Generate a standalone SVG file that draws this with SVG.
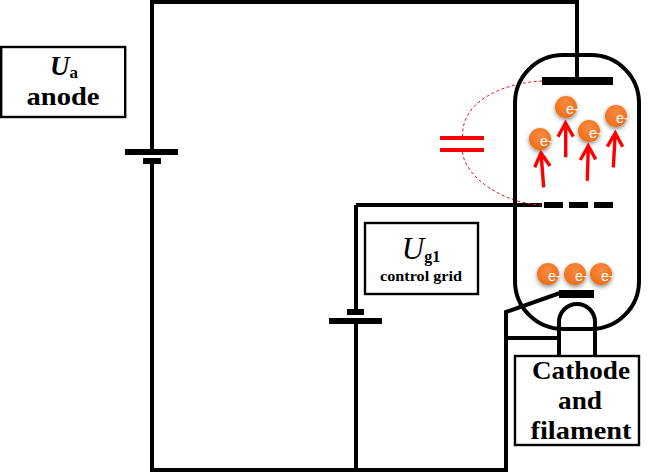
<svg xmlns="http://www.w3.org/2000/svg" width="652" height="474" viewBox="0 0 652 474">
<style>
.w{fill:none;stroke:#000;stroke-width:4}
.b{fill:#000}
.box{fill:#fff;stroke:#000;stroke-width:2.4}
.r{fill:none;stroke:#f00;stroke-width:3.400}
.d{fill:none;stroke:#e8121c;stroke-width:1;stroke-dasharray:3 2.500}
.t{font-family:"Liberation Serif",serif;font-weight:bold;fill:#000;text-anchor:middle}
.e{font-family:"Liberation Sans",sans-serif;font-size:14.500px;fill:#fff}
</style>
<defs>
<radialGradient id="og" cx="50%" cy="35%" r="70%"><stop offset="0" stop-color="#f78a40"/><stop offset="1" stop-color="#ee6c15"/></radialGradient>
<filter id="sh" x="-40%" y="-40%" width="180%" height="180%"><feDropShadow dx="0" dy="2" stdDeviation="2" flood-color="#000" flood-opacity=".45"/></filter>
<g id="el"><circle r="11" fill="url(#og)" filter="url(#sh)"/><text class="e" x="0" y="7">e-</text></g>
</defs>
<rect width="652" height="474" fill="#fff"/>
<g id="connectors">
<path class="w" d="M152 149V2H577V78M152 162V470H506V312L560 293"/>
<path class="w" d="M356 205H542M356 205V311M356 322V470"/>
<path class="w" d="M506 338H559"/>
<path class="d" d="M542 81C515 82 462 95 462.500 136"/>
<path class="d" d="M462.500 152C465 178 505 204 542 205"/>
</g>
<g id="tube"><rect x="515" y="55" width="124" height="274" rx="48" ry="48" fill="none" stroke="#000" stroke-width="4"/></g>
<g id="anode-plate"><rect class="b" x="542" y="77" width="71" height="8"/></g>
<g id="grid"><rect class="b" x="544" y="202" width="19" height="6"/><rect class="b" x="569" y="202" width="19" height="6"/><rect class="b" x="594" y="202" width="19" height="6"/></g>
<g id="battery-a"><rect class="b" x="125" y="149" width="53" height="6"/><rect class="b" x="143" y="158" width="18" height="6"/></g>
<g id="battery-g"><rect class="b" x="347" y="309" width="17" height="6"/><rect class="b" x="329" y="318" width="53" height="6"/></g>
<g id="capacitor"><rect x="440" y="136" width="44" height="4" fill="#f00"/><rect x="440" y="148" width="44" height="4" fill="#f00"/></g>
<g id="cathode"><rect class="b" x="559" y="290" width="35" height="8"/><path class="w" d="M559 356V322A18 18 0 0 1 595 322V356"/></g>
<g id="electrons">
<use href="#el" x="566" y="107"/><use href="#el" x="589" y="131"/><use href="#el" x="616" y="116"/><use href="#el" x="540" y="139"/>
<use href="#el" x="548" y="274"/><use href="#el" x="575" y="274"/><use href="#el" x="601" y="274"/>
</g>
<g id="arrows">
<path class="r" d="M543.700 187.300L541 153M534.700 167.300L541 153L550 166"/>
<path class="r" d="M565.700 157.300V123M558 136.700L565.500 123L573.300 136.700"/>
<path class="r" d="M587.300 180.700L588.300 146M580.300 160L588.300 146L595.700 159.300"/>
<path class="r" d="M613.300 167.300L615.300 133M607.300 146.700L615.300 133L622.700 146.700"/>
</g>
<g id="box-anode"><rect class="box" x="1.200" y="47" width="124" height="70"/>
<text class="t" x="64" y="75" font-size="27"><tspan font-style="italic">U</tspan><tspan font-size="17" dy="3">a</tspan></text>
<text class="t" x="63" y="105" font-size="26" textLength="73" lengthAdjust="spacingAndGlyphs">anode</text></g>
<g id="box-grid"><rect class="box" x="365" y="223" width="113" height="71"/>
<text class="t" x="421" y="259" font-size="31" style="font-weight:normal"><tspan font-style="italic">U</tspan><tspan font-size="16" style="font-weight:bold" dy="3">g1</tspan></text>
<text class="t" x="421" y="281" font-size="15" textLength="82" lengthAdjust="spacingAndGlyphs">control grid</text></g>
<g id="box-cathode"><rect class="box" x="515" y="356" width="124" height="89"/>
<text class="t" x="581" y="379" font-size="26" textLength="98" lengthAdjust="spacingAndGlyphs">Cathode</text>
<text class="t" x="580" y="409" font-size="26" textLength="44" lengthAdjust="spacingAndGlyphs">and</text>
<text class="t" x="581" y="439" font-size="26" textLength="101" lengthAdjust="spacingAndGlyphs">filament</text></g>
</svg>
